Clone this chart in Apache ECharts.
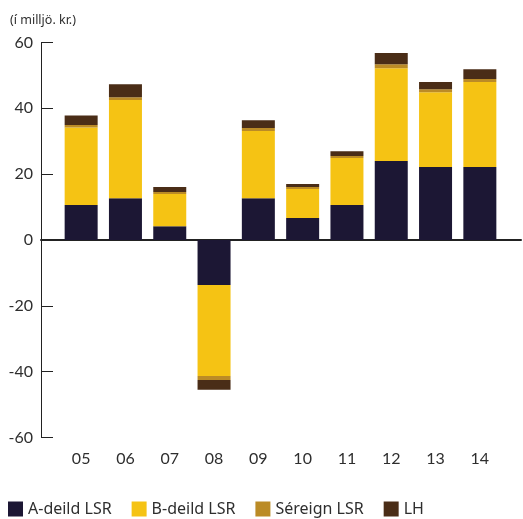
<html lang="is">
  <head>
    <meta charset="UTF-8" />
    <title>LSR</title>
    <style>
      html, body { margin: 0; padding: 0; background: #fff; }
    </style>
  </head>
  <body>
    <div id="main" style="width: 523px; height: 519px"></div>

    <script src="https://cdn.jsdelivr.net/npm/echarts@6/dist/echarts.min.js"></script>
    <script>
      const years = ['05', '06', '07', '08', '09', '10', '11', '12', '13', '14']
      const aDeild = [10.6, 12.7, 4.2, -13.7, 12.7, 6.7, 10.6, 24.0, 22.2, 22.2]
      const bDeild = [23.6, 29.8, 9.8, -27.6, 20.4, 8.8, 14.3, 28.2, 22.7, 25.8]
      const sereign = [0.7, 0.9, 0.6, -1.2, 0.9, 0.6, 0.6, 1.2, 0.9, 0.9]
      const lh = [2.9, 3.9, 1.5, -3.0, 2.4, 0.9, 1.5, 3.4, 2.2, 3.0]
      const yTicks = { min: -60, max: 60, step: 20 }

      const font = 'Lato, "Noto Sans", sans-serif'
      const legendFont = '"Noto Sans", Lato, sans-serif'
      const textColor = '#2e2e2e'

      let mCharts = echarts.init(document.querySelector('#main'))

      function bar(name, data, color) {
        return {
          name,
          type: 'bar',
          stack: 'total',
          xAxisIndex: 1,
          yAxisIndex: 1,
          barWidth: 33,
          itemStyle: { color },
          data
        }
      }

      let option = {
        animation: false,
        title: {
          text: '(í milljö. kr.)',
          left: 5,
          top: 9,
          textStyle: { fontFamily: legendFont, fontSize: 12.5, fontWeight: 'normal', color: textColor }
        },
        legend: {
          left: 8,
          top: 501,
          padding: 0,
          icon: 'rect',
          itemWidth: 15,
          itemHeight: 15,
          itemGap: 20,
          textStyle: { fontFamily: legendFont, fontSize: 16, color: textColor },
          data: ['A-deild LSR', 'B-deild LSR', 'Séreign LSR', 'LH']
        },
        grid: [
          { left: 41, right: 2, top: 42.5, bottom: 81.5 },
          { left: 59, right: 21, top: 42.5, bottom: 81.5 }
        ],
        xAxis: [
          {
            type: 'category',
            gridIndex: 0,
            data: [''],
            axisLine: { onZero: true, lineStyle: { color: '#222', width: 2 } },
            axisTick: { show: false },
            axisLabel: { show: false }
          },
          {
            type: 'category',
            gridIndex: 1,
            data: years,
            axisLine: { show: false, onZero: false },
            axisTick: { show: false },
            axisLabel: { fontFamily: font, fontSize: 16, color: textColor, margin: 13 }
          }
        ],
        yAxis: [
          {
            type: 'value',
            gridIndex: 0,
            min: yTicks.min,
            max: yTicks.max,
            interval: yTicks.step,
            splitLine: { show: false },
            axisLine: { show: true, lineStyle: { color: '#222', width: 1 } },
            axisTick: { show: true, inside: true, length: 12, lineStyle: { color: '#222' } },
            axisLabel: { fontFamily: font, fontSize: 16, color: textColor, margin: 8 }
          },
          {
            type: 'value',
            gridIndex: 1,
            min: yTicks.min,
            max: yTicks.max,
            interval: yTicks.step,
            show: false,
            splitLine: { show: false }
          }
        ],
        series: [
          bar('A-deild LSR', aDeild, '#1c1734'),
          bar('B-deild LSR', bDeild, '#f5c314'),
          bar('Séreign LSR', sereign, '#bb8b26'),
          bar('LH', lh, '#4a2d17')
        ]
      }
      mCharts.setOption(option)
    </script>
  </body>
</html>
